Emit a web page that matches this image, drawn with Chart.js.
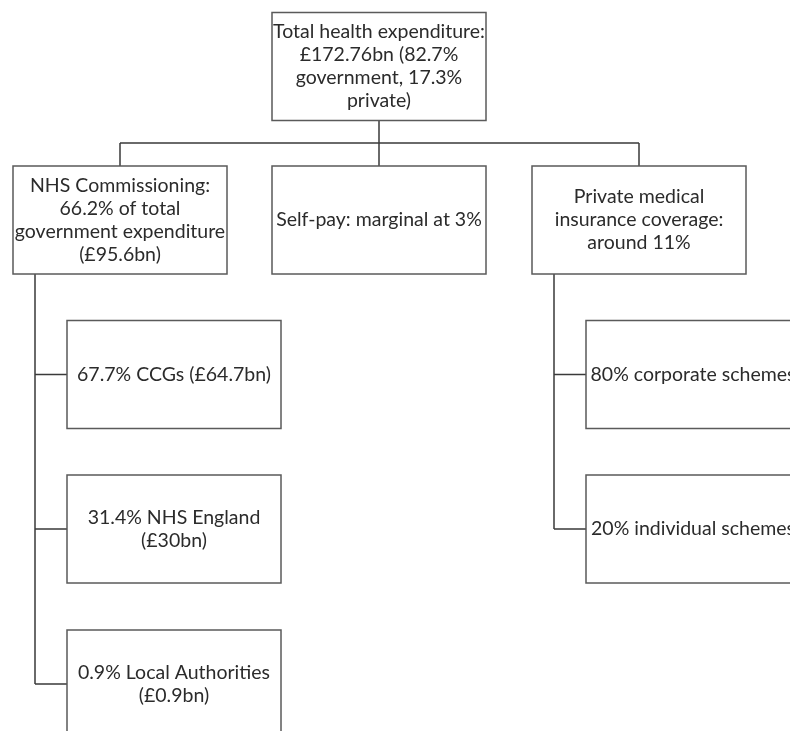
<!DOCTYPE html>
<html>
<head>
<meta charset="utf-8">
<script src="https://cdn.jsdelivr.net/npm/chart.js@4.4.1/dist/chart.umd.min.js"></script>
<style>
html, body { margin: 0; padding: 0; background: #fff; overflow: hidden; }
#wrap { width: 790px; height: 731px; position: relative; }
</style>
</head>
<body>
<div id="wrap"><canvas id="arvore"></canvas></div>
<script>
// tree content
var nodeLabels = [
    'Total health expenditure:\n£172.76bn (82.7%\ngovernment, 17.3%\nprivate)',
    'NHS Commissioning:\n66.2% of total\ngovernment expenditure\n(£95.6bn)',
    'Self-pay: marginal at 3%',
    'Private medical\ninsurance coverage:\naround 11%',
    '67.7% CCGs (£64.7bn)',
    '31.4% NHS England\n(£30bn)',
    '0.9% Local Authorities\n(£0.9bn)',
    '80% corporate schemes',
    '20% individual schemes'
];
var nodeParents = [-1, 0, 0, 0, 1, 1, 1, 3, 3];

// layout (axis units)
var layout = {
    rootX: 379, rootY: 66.5, busY: 143,
    level1X: [120, 379, 639], level1Y: 220,
    childY: [374.5, 529, 684],
    trunkIndent: 22, childIndent: 54,
    boxW: 214, boxH: 108
};

function buildPoints() {
    var pts = [];
    var level1Count = 0;
    var childCount = {};
    nodeParents.forEach(function (p, i) {
        if (p < 0) {
            pts.push({ x: layout.rootX, y: layout.rootY });
        } else if (nodeParents[p] < 0) {
            pts.push({ x: layout.level1X[level1Count++], y: layout.level1Y });
        } else {
            var k = childCount[p] || 0;
            childCount[p] = k + 1;
            var left = pts[p].x - layout.boxW / 2;
            pts.push({ x: left + layout.childIndent + layout.boxW / 2, y: layout.childY[k] });
        }
    });
    return pts;
}

var points = buildPoints();

var treePlugin = {
    id: 'treeBoxes',
    beforeDatasetsDraw: function (chart) {
        var ctx = chart.ctx, xs = chart.scales.x, ys = chart.scales.y;
        var hw = layout.boxW / 2, hh = layout.boxH / 2;
        ctx.save();
        ctx.strokeStyle = '#3a3a3a';
        ctx.lineWidth = 1.5;
        ctx.beginPath();
        // root to bus
        var firstKids = [];
        nodeParents.forEach(function (p, i) { if (p === 0) firstKids.push(i); });
        ctx.moveTo(xs.getPixelForValue(points[0].x), ys.getPixelForValue(points[0].y + hh));
        ctx.lineTo(xs.getPixelForValue(points[0].x), ys.getPixelForValue(layout.busY));
        ctx.moveTo(xs.getPixelForValue(points[firstKids[0]].x), ys.getPixelForValue(layout.busY));
        ctx.lineTo(xs.getPixelForValue(points[firstKids[firstKids.length - 1]].x), ys.getPixelForValue(layout.busY));
        firstKids.forEach(function (i) {
            ctx.moveTo(xs.getPixelForValue(points[i].x), ys.getPixelForValue(layout.busY));
            ctx.lineTo(xs.getPixelForValue(points[i].x), ys.getPixelForValue(points[i].y - hh));
        });
        // trunks for deeper children
        firstKids.forEach(function (p) {
            var kids = [];
            nodeParents.forEach(function (q, i) { if (q === p) kids.push(i); });
            if (!kids.length) return;
            var tx = xs.getPixelForValue(points[p].x - hw + layout.trunkIndent);
            ctx.moveTo(tx, ys.getPixelForValue(points[p].y + hh));
            ctx.lineTo(tx, ys.getPixelForValue(points[kids[kids.length - 1]].y));
            kids.forEach(function (k) {
                ctx.moveTo(tx, ys.getPixelForValue(points[k].y));
                ctx.lineTo(xs.getPixelForValue(points[k].x - hw), ys.getPixelForValue(points[k].y));
            });
        });
        ctx.stroke();
        ctx.restore();
    },
    afterDatasetsDraw: function (chart) {
        var ctx = chart.ctx, xs = chart.scales.x, ys = chart.scales.y;
        var meta = chart.getDatasetMeta(0);
        ctx.save();
        meta.data.forEach(function (el, i) {
            var x0 = xs.getPixelForValue(points[i].x - layout.boxW / 2);
            var x1 = xs.getPixelForValue(points[i].x + layout.boxW / 2);
            var y0 = ys.getPixelForValue(points[i].y - layout.boxH / 2);
            var y1 = ys.getPixelForValue(points[i].y + layout.boxH / 2);
            ctx.fillStyle = '#ffffff';
            ctx.fillRect(x0, y0, x1 - x0, y1 - y0);
            ctx.strokeStyle = '#5a5a5a';
            ctx.lineWidth = 1.5;
            ctx.strokeRect(x0, y0, x1 - x0, y1 - y0);
            var lines = nodeLabels[i].split('\n');
            ctx.fillStyle = '#2b2b2b';
            ctx.font = '19.5px Lato';
            ctx.textAlign = 'center';
            ctx.textBaseline = 'middle';
            var lh = 23;
            lines.forEach(function (t, j) {
                ctx.fillText(t, el.x, el.y + (j - (lines.length - 1) / 2) * lh);
            });
        });
        ctx.restore();
    }
};

new Chart(document.getElementById('arvore').getContext('2d'), {
    type: 'scatter',
    data: {
        datasets: [{
            label: 'nodes',
            data: points,
            pointRadius: 0,
            pointHoverRadius: 0
        }]
    },
    options: {
        responsive: true,
        maintainAspectRatio: false,
        animation: false,
        events: [],
        layout: { padding: 0 },
        plugins: { legend: { display: false }, tooltip: { enabled: false } },
        scales: {
            x: { type: 'linear', min: 0, max: 790, display: false },
            y: { type: 'linear', min: 0, max: 731, reverse: true, display: false }
        }
    },
    plugins: [treePlugin]
});
</script>
</body>
</html>
